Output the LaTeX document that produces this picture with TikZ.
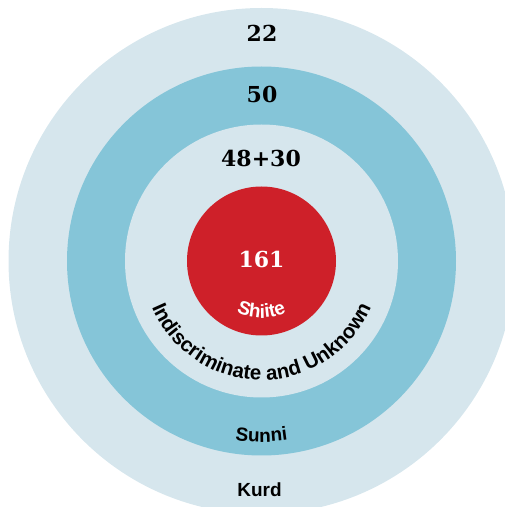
\documentclass[tikz,border=0pt]{standalone}
\usepackage{fontspec}
\newfontfamily\labfont{Liberation Sans}
\newfontfamily\numfont{DejaVu Serif}
\usetikzlibrary{decorations.text}
\definecolor{outerc}{HTML}{D6E6ED}
\definecolor{midc}{HTML}{85C5D8}
\definecolor{redc}{HTML}{CE2029}
\newcommand{\labsize}{\labfont\bfseries\fontsize{19}{19}\selectfont}
\newcommand{\arcsize}{\labfont\bfseries\fontsize{20.5}{20.5}\selectfont}
\begin{document}
\begin{tikzpicture}[x=1pt,y=1pt,
  num/.style={font=\numfont\bfseries\fontsize{22}{22}\selectfont, anchor=base, inner sep=0pt},
  lab/.style={font=\labsize, anchor=base, inner sep=0pt}]
\useasboundingbox (0,0) rectangle (505,507);
\clip (0,0) rectangle (505,507);
\coordinate (c) at (261.5,246);
\fill[outerc] (c) circle (253);
\fill[midc] (c) circle (194.5);
\fill[outerc] (c) circle (136.5);
\fill[redc] (c) circle (74.5);
\node[num] (n22) at (262,465) {22};
\node[num] (n50) at (262,404) {50};
\node[num] (n48) at (261,340) {48+30};
\node[num,text=white] (n161) at (261.5,239) {161};
\node[lab] (kurd) at (259.5,10) {Kurd};
\path[decorate, decoration={text along path, text align=center,
  text={|\arcsize|Indiscriminate and Unknown}}]
  ([shift={(185:119)}]c) arc[start angle=185, end angle=355, radius=119];
\path[decorate, decoration={text along path, text align=center,
  text={|\labsize|Sunni}}]
  ([shift={(220:181)}]c) arc[start angle=220, end angle=320, radius=181];
\path[decorate, decoration={text along path, text align=center, text color=white,
  text={|\labsize|Shiite}}]
  ([shift={(200:57)}]c) arc[start angle=200, end angle=340, radius=57];
\end{tikzpicture}
\end{document}
